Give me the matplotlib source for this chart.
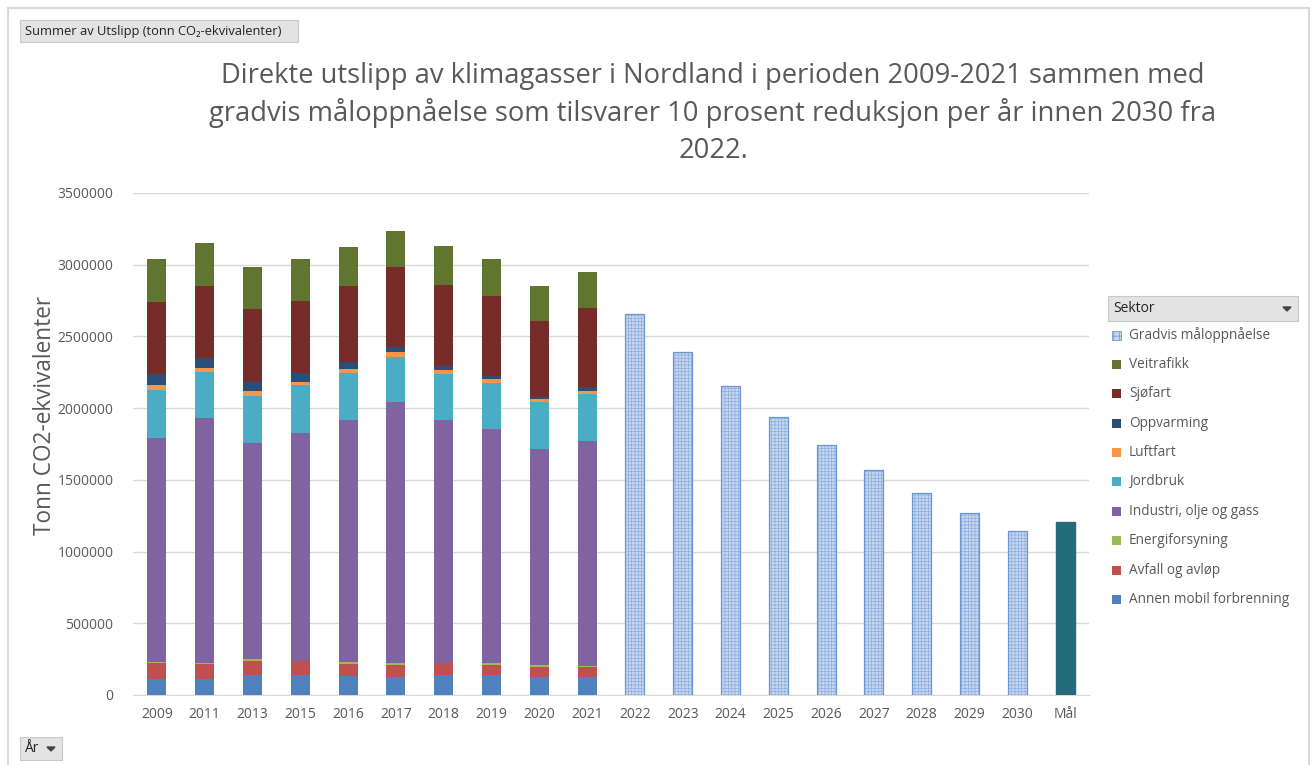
import numpy as np
import matplotlib.pyplot as plt
from matplotlib.patches import Rectangle, Polygon

plt.rcParams['font.family'] = ['Open Sans', 'DejaVu Sans']

# Kategorier på x-aksen
kategorier = ['2009', '2011', '2013', '2015', '2016', '2017', '2018', '2019', '2020', '2021',
              '2022', '2023', '2024', '2025', '2026', '2027', '2028', '2029', '2030', 'Mål']

# Historiske utslipp per sektor (tonn CO2-ekv), 2009-2021
annen_mobil = [112000, 112000, 139000, 137000, 130000, 123000, 139000, 139000, 123000, 123000]
avfall = [109000, 104000, 100000, 100000, 88000, 88000, 82000, 72000, 74000, 70000]
energi = [9000, 9000, 10000, 3000, 12000, 10000, 3000, 10000, 12000, 11000]
industri = [1564000, 1704000, 1510000, 1590000, 1687000, 1820000, 1694000, 1636000, 1508000, 1569000]
jordbruk = [332000, 321000, 328000, 328000, 328000, 318000, 323000, 316000, 324000, 328000]
luftfart = [33000, 30000, 35000, 27000, 28000, 32000, 24000, 30000, 23000, 21000]
oppvarming = [79000, 70000, 62000, 59000, 49000, 35000, 30000, 23000, 16000, 25000]
sjofart = [502000, 502000, 505000, 504000, 532000, 556000, 565000, 556000, 525000, 553000]
veitrafikk = [302000, 297000, 295000, 291000, 272000, 253000, 267000, 256000, 244000, 251000]

# Gradvis måloppnåelse 2022-2030 og mål
gradvis = [2656000, 2390000, 2151000, 1936000, 1742000, 1568000, 1411000, 1270000, 1143000]
maal = 1206000

sektorer = ['Annen mobil forbrenning', 'Avfall og avløp', 'Energiforsyning',
            'Industri, olje og gass', 'Jordbruk', 'Luftfart', 'Oppvarming',
            'Sjøfart', 'Veitrafikk']
farger = ['#4f81bd', '#c0504d', '#9bbb59', '#8064a2', '#4bacc6',
          '#f79646', '#2c4d75', '#772c2a', '#5f7530']
serier = [annen_mobil, avfall, energi, industri, jordbruk, luftfart,
          oppvarming, sjofart, veitrafikk]

fig = plt.figure(figsize=(13.14, 7.65), dpi=100)
ax = fig.add_axes([133 / 1314, 1 - 695 / 765, (1089 - 133) / 1314, (695 - 193) / 765])

x = np.arange(len(kategorier))
bredde = 0.4
x_hist = x[:10]
bunn = np.zeros(10)
for navn, verdier, farge in zip(sektorer, serier, farger):
    ax.bar(x_hist, verdier, bredde, bottom=bunn, color=farge, label=navn, zorder=3)
    bunn += np.array(verdier)

# Skravert fyll og kantlinje for gradvis måloppnåelse
plt.rcParams['hatch.linewidth'] = 0.5
ax.bar(x[10:19], gradvis, bredde, color='#c6d6ee', edgecolor='#8aaedf',
       hatch='+++++', linewidth=0, zorder=3)
ax.bar(x[10:19], gradvis, bredde, fill=False, edgecolor='#6a96d4', linewidth=0.9, zorder=4)
ax.bar(x[19], maal, bredde, color='#256b7b', edgecolor='#256b7b', zorder=3)

ax.set_xlim(-0.5, len(kategorier) - 0.5)
ax.set_ylim(0, 3500000)
ax.set_yticks(np.arange(0, 3500001, 500000))
ax.set_yticklabels([str(v) for v in range(0, 3500001, 500000)])
ax.set_xticks(x)
ax.set_xticklabels(kategorier)
ax.tick_params(axis='both', length=0, labelsize=10, colors='#595959', pad=9)
ax.tick_params(axis='y', pad=14)
ax.yaxis.grid(True, color='#d9d9d9', linewidth=1, zorder=0)
for side in ['top', 'right', 'left']:
    ax.spines[side].set_visible(False)
ax.spines['bottom'].set_color('#d9d9d9')
ax.set_ylabel('Tonn CO2-ekvivalenter', fontsize=16.3, color='#595959')
ax.yaxis.set_label_coords(-0.08, 0.556)

# Tittel
tittel = ['Direkte utslipp av klimagasser i Nordland i perioden 2009-2021 sammen med',
          'gradvis måloppnåelse som tilsvarer 10 prosent reduksjon per år innen 2030 fra',
          '2022.']
for i, linje in enumerate(tittel):
    fig.text(713 / 1314, 1 - (76 + i * 37.5) / 765, linje, ha='center', va='center',
             fontsize=19.7, color='#595959')

# Ramme rundt diagrammet
fig.add_artist(plt.Line2D([8 / 1314, 8 / 1314], [0, 1 - 8 / 765], transform=fig.transFigure,
                          color='#d9d9d9', linewidth=1.5))
fig.add_artist(plt.Line2D([8 / 1314, 1309 / 1314], [1 - 8 / 765, 1 - 8 / 765],
                          transform=fig.transFigure, color='#d9d9d9', linewidth=1.5))
fig.add_artist(plt.Line2D([1309 / 1314, 1309 / 1314], [0, 1 - 8 / 765],
                          transform=fig.transFigure, color='#d9d9d9', linewidth=1.5))


def knapp(x0, y0, x1, y1, tekst, pil=None, storrelse=9):
    fig.add_artist(Rectangle((x0 / 1314, 1 - y1 / 765), (x1 - x0) / 1314, (y1 - y0) / 765,
                             transform=fig.transFigure, facecolor='#e3e3e3',
                             edgecolor='#c8c8c8', linewidth=0.8))
    fig.text((x0 + 5) / 1314, 1 - (y0 + y1) / 2 / 765, tekst, ha='left', va='center',
             fontsize=storrelse, color='#222222')
    if pil is not None:
        px, py = pil
        fig.add_artist(Polygon([((px - 4) / 1314, 1 - (py - 2) / 765),
                                ((px + 4) / 1314, 1 - (py - 2) / 765),
                                (px / 1314, 1 - (py + 2) / 765)],
                               transform=fig.transFigure, color='#444444'))


knapp(20, 20, 298, 42, 'Summer av Utslipp (tonn CO₂-ekvivalenter)', storrelse=9.3)
knapp(20, 737, 62, 760, 'År', pil=(51, 749), storrelse=10)
knapp(1108, 296, 1298, 321, 'Sektor', pil=(1287, 309), storrelse=10)

# Forklaring
forklaring = ['Gradvis måloppnåelse'] + sektorer[::-1]
forklaring_farger = ['#c6d6ee'] + farger[::-1]
for i, (navn, farge) in enumerate(zip(forklaring, forklaring_farger)):
    yc = 335 + i * 29.4
    if i == 0:
        fig.add_artist(Rectangle((1112 / 1314, 1 - (yc + 4.5) / 765), 9 / 1314, 9 / 765,
                                 transform=fig.transFigure, facecolor=farge,
                                 edgecolor='#6a96d4', hatch='+++', linewidth=0.6))
    else:
        fig.add_artist(Rectangle((1112 / 1314, 1 - (yc + 4.5) / 765), 9 / 1314, 9 / 765,
                                 transform=fig.transFigure, facecolor=farge,
                                 edgecolor='none'))
    fig.text(1129 / 1314, 1 - yc / 765, navn, ha='left', va='center',
             fontsize=9.8, color='#595959')

fig.savefig('out.png', dpi=100)
